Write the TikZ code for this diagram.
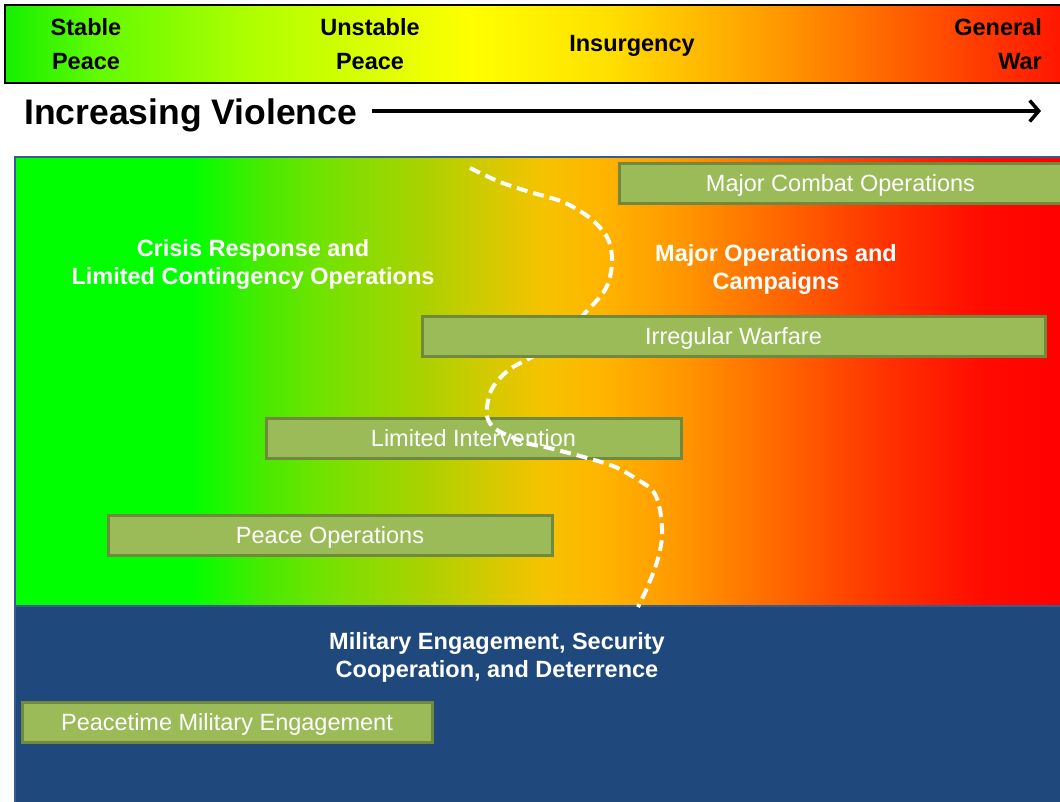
\documentclass[tikz,border=0pt]{standalone}
\usepackage{fontspec}
\setmainfont{Liberation Sans}
\usetikzlibrary{arrows.meta}
\definecolor{tg0}{RGB}{20,240,0}
\definecolor{tg1}{RGB}{100,250,0}
\definecolor{tg2}{RGB}{175,255,0}
\definecolor{tg3}{RGB}{255,255,0}
\definecolor{tg4}{RGB}{255,225,0}
\definecolor{tg5}{RGB}{255,150,0}
\definecolor{tg6}{RGB}{255,70,0}
\definecolor{tg7}{RGB}{255,20,0}
\definecolor{mg0}{RGB}{0,255,0}
\definecolor{mg1}{RGB}{70,235,0}
\definecolor{mg2}{RGB}{120,225,0}
\definecolor{mg3}{RGB}{170,210,0}
\definecolor{mg4}{RGB}{220,200,0}
\definecolor{mg5}{RGB}{245,195,0}
\definecolor{mg6}{RGB}{255,180,0}
\definecolor{mg7}{RGB}{255,150,0}
\definecolor{mg8}{RGB}{255,100,0}
\definecolor{mg9}{RGB}{255,50,0}
\definecolor{mg10}{RGB}{255,10,0}
\definecolor{mg11}{RGB}{255,0,0}
\definecolor{barfill}{RGB}{155,187,89}
\definecolor{barline}{RGB}{113,137,63}
\definecolor{navy}{RGB}{31,73,125}
\definecolor{panelline}{RGB}{56,93,138}
\pgfdeclarehorizontalshading{topgrad}{100bp}{color(0bp)=(tg0); color(25bp)=(tg0); color(29.5bp)=(tg1); color(36.6bp)=(tg2); color(47bp)=(tg3); color(53.2bp)=(tg4); color(61.7bp)=(tg5); color(69.8bp)=(tg6); color(75bp)=(tg7); color(100bp)=(tg7)}
\pgfdeclarehorizontalshading{maingrad}{100bp}{color(0bp)=(mg0); color(25bp)=(mg0); color(33.4bp)=(mg0); color(36.7bp)=(mg1); color(40.1bp)=(mg2); color(44.4bp)=(mg3); color(48.2bp)=(mg4); color(50.1bp)=(mg5); color(53bp)=(mg6); color(56.8bp)=(mg7); color(61.6bp)=(mg8); color(66.4bp)=(mg9); color(71.2bp)=(mg10); color(75bp)=(mg11); color(100bp)=(mg11)}
\newcommand\labfont{\fontsize{23.5}{28}\selectfont\bfseries}
\newcommand\scalefont{\fontsize{23.5}{34}\selectfont\bfseries}
\newcommand\barfont{\fontsize{23.5}{28}\selectfont}
\tikzset{
  bar/.style={draw=barline, fill=barfill, line width=3pt, text=white, font=\barfont, inner sep=0pt, minimum height=40pt, text height=16.8pt, text depth=0pt, anchor=center},
  scalelab/.style={font=\scalefont, text=black, align=center, inner sep=0pt},
  whitelab/.style={font=\labfont, text=white, align=center, inner sep=0pt},
  dashcurve/.style={white, line width=4pt, dash pattern=on 11pt off 6pt},
}
\begin{document}
\begin{tikzpicture}[x=1pt,y=-1pt]
\useasboundingbox (0,0) rectangle (1060,801);
% top scale bar
\path[shading=topgrad, draw=black, line width=1.5pt] (5,5) rectangle (1066,83);
\node[scalelab] (stable) at (86,44) {Stable\\Peace};
\node[scalelab] (unstable) at (370,44) {Unstable\\Peace};
\node[scalelab] (insurg) at (632,46) {Insurgency};
\node[scalelab, align=right, anchor=east] (genwar) at (1042,44) {General\\War};
% increasing violence
\node[font=\fontsize{35.5}{40}\selectfont\bfseries, inner sep=0pt, anchor=base west] (incr) at (24,124) {Increasing Violence};
\coordinate (arrs) at (372,111);
\coordinate (arre) at (1041,111);
\draw[line width=3.5pt, -{Straight Barb[length=9pt,width=21pt,line width=3.5pt]}] (arrs) -- (arre);
% main panel
\path[shading=maingrad, draw=panelline, line width=2.5pt] (15,157) rectangle (1066,606);
\path[fill=navy, draw=panelline, line width=2.5pt] (15,606) rectangle (1066,810);
% bars
\node[bar, minimum width=443pt] (mco) at (840.5,183) {Major Combat Operations};
\node[bar, minimum width=444pt] (po) at (330,535) {Peace Operations};
\node[bar, minimum width=415pt] (li) at (473.5,438) {Limited Intervention};
% dashed boundary
\draw[dashcurve] plot[smooth, tension=0.55] coordinates {(470,168) (500,182) (530,192) (563,202) (590,218) (607,237) (612,257) (610,277) (603,293) (585,313) (560,340) (532,357) (513,367) (500,378) (490,393) (487,416) (497,430) (527,443) (545,447) (580,456) (613,466) (635,478) (653,491) (660,510) (662,537) (657,562) (647,588) (638,607)};
\node[bar, minimum width=623pt] (iw) at (733.5,336) {Irregular Warfare};
\node[bar, minimum width=410pt] (pme) at (227,722) {Peacetime Military Engagement};
% region labels
\node[whitelab] (crisis) at (253,264) {Crisis Response and\\Limited Contingency Operations};
\node[whitelab] (majops) at (776,269) {Major Operations and\\Campaigns};
\node[whitelab] (milen) at (497,657) {Military Engagement, Security\\Cooperation, and Deterrence};
\end{tikzpicture}
\end{document}
